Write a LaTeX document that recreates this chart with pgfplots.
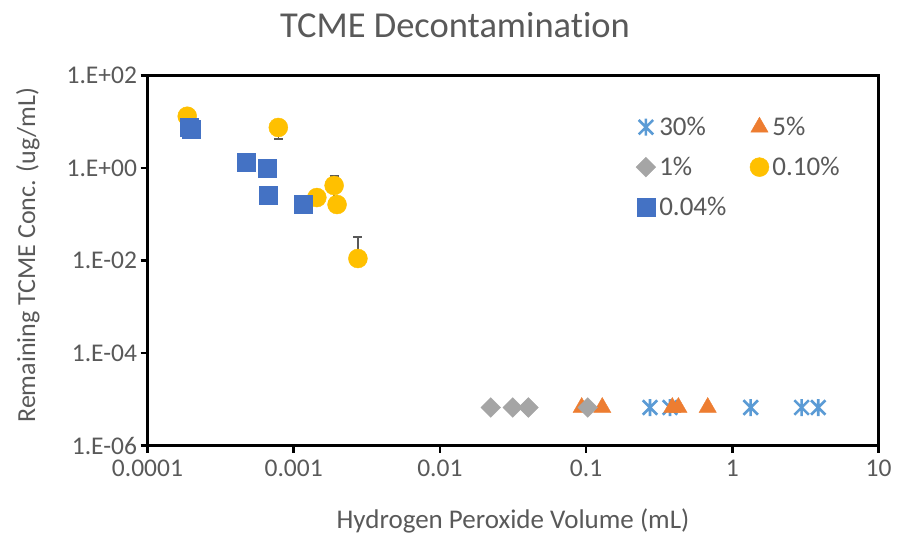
\documentclass[border=0pt]{standalone}
\usepackage{fontspec}
\setmainfont{Carlito}[Ligatures=NoCommon]
\usepackage{pgfplots}
\pgfplotsset{compat=1.18}
\definecolor{txt}{HTML}{595959}
\definecolor{cA}{HTML}{5B9BD5}
\definecolor{cB}{HTML}{ED7D31}
\definecolor{cC}{HTML}{A5A5A5}
\definecolor{cD}{HTML}{FFC000}
\definecolor{cE}{HTML}{4472C4}
\pgfdeclareplotmark{xstar}{%
  \pgfpathmoveto{\pgfqpoint{0pt}{\pgfplotmarksize}}%
  \pgfpathlineto{\pgfqpoint{0pt}{-\pgfplotmarksize}}%
  \pgfpathmoveto{\pgfqpoint{-0.85\pgfplotmarksize}{0.85\pgfplotmarksize}}%
  \pgfpathlineto{\pgfqpoint{0.85\pgfplotmarksize}{-0.85\pgfplotmarksize}}%
  \pgfpathmoveto{\pgfqpoint{-0.85\pgfplotmarksize}{-0.85\pgfplotmarksize}}%
  \pgfpathlineto{\pgfqpoint{0.85\pgfplotmarksize}{0.85\pgfplotmarksize}}%
  \pgfusepathqstroke}
\begin{document}
\begin{tikzpicture}
\useasboundingbox (-147.5pt,-93.3pt) rectangle (750.5pt,445.7pt);
\begin{axis}[
  at={(0,0)}, anchor=south west,
  scale only axis, width=731pt, height=370pt,
  xmode=log, ymode=log,
  xmin=1e-4, xmax=10, ymin=1e-6, ymax=100,
  xtick={1e-4,1e-3,1e-2,1e-1,1,10},
  xticklabels={0.0001,0.001,0.01,0.1,1,10},
  ytick={1e-6,1e-4,1e-2,1,100},
  yticklabels={1.E-06,1.E-04,1.E-02,1.E+00,1.E+02},
  xminorticks=false, yminorticks=false,
  tick align=outside, tick pos=left,
  major tick length=7pt,
  axis line style={line width=2.5pt, black},
  every tick/.style={black, line width=2.5pt},
  tick label style={font=\fontsize{25.5}{30}\selectfont, text=txt},
  xticklabel style={yshift=-4pt},
  title={TCME Decontamination},
  title style={font=\fontsize{36.5}{42}\selectfont, text=txt, at={(axis description cs:0.4207,1.121)}, anchor=center},
  xlabel={Hydrogen Peroxide Volume (mL)},
  xlabel style={font=\fontsize{27}{31}\selectfont, text=txt, at={(axis description cs:0.5,-0.2035)}, anchor=center},
  ylabel={Remaining TCME Conc. (ug/mL)},
  ylabel style={font=\fontsize{26}{30}\selectfont, text=txt, at={(axis description cs:-0.1635,0.515)}, anchor=center},
  legend columns=2,
  legend cell align=left,
  legend style={at={(axis description cs:0.668,0.891)}, anchor=north west, draw=none, fill=none,
    font=\fontsize{27}{30}\selectfont, text=txt, inner sep=0pt, row sep=18pt,
    /tikz/every even column/.append style={column sep=20pt},
    nodes={inner xsep=3.5pt, inner ysep=1pt}},
  legend image code/.code={\draw[mark repeat=2,mark phase=2] plot coordinates {(0pt,0pt)(9pt,0pt)(18pt,0pt)};},
]
% 30%
\addplot[only marks, mark=xstar, mark size=8.5pt, draw=cA, mark options={line width=2.6pt, draw=cA}]
  coordinates {(0.2735,6.7e-6) (0.375,6.7e-6) (1.336,6.7e-6) (2.98,6.7e-6) (3.87,6.7e-6)};
\addlegendentry{30\%}
% 5%
\addplot[only marks, mark=triangle*, mark size=10pt, draw=cB, fill=cB]
  coordinates {(0.0933,6.7e-6) (0.129,6.7e-6) (0.389,6.7e-6) (0.428,6.7e-6) (0.679,6.7e-6)};
\addlegendentry{5\%}
% 1%
\addplot[only marks, mark=square*, mark size=7pt, draw=cC, fill=cC, mark options={rotate=45}]
  coordinates {(0.02226,6.7e-6) (0.0315,6.7e-6) (0.0403,6.7e-6) (0.1026,6.7e-6)};
\addlegendentry{1\%}
% 0.10% error bars
\addplot[only marks, mark=none, forget plot,
  error bars/.cd, y dir=both, y explicit,
  error bar style={draw=black!65, line width=1.5pt},
  error mark options={rotate=90, mark size=4.5pt, draw=black!65, line width=1.5pt}]
  coordinates {(7.85e-4,7.6) +- (0,3.35) (1.89e-3,0.423) +- (0,0.26) (2.75e-3,0.01116) += (0,0.0216) -= (0,0)};
% 0.10%
\addplot[only marks, mark=*, mark size=9.5pt, draw=cD, fill=cD]
  coordinates {(1.87e-4,13.3) (7.85e-4,7.6) (1.44e-3,0.232) (1.89e-3,0.423) (1.98e-3,0.164) (2.75e-3,0.01116)};
\addlegendentry{0.10\%}
% 0.04%
\addplot[only marks, mark=square*, mark size=9pt, draw=cE, fill=cE]
  coordinates {(1.93e-4,7.8) (2.0e-4,6.9) (4.75e-4,1.35) (6.6e-4,1.01) (6.7e-4,0.257) (1.17e-3,0.164)};
\addlegendentry{0.04\%}
\end{axis}
\end{tikzpicture}
\end{document}
